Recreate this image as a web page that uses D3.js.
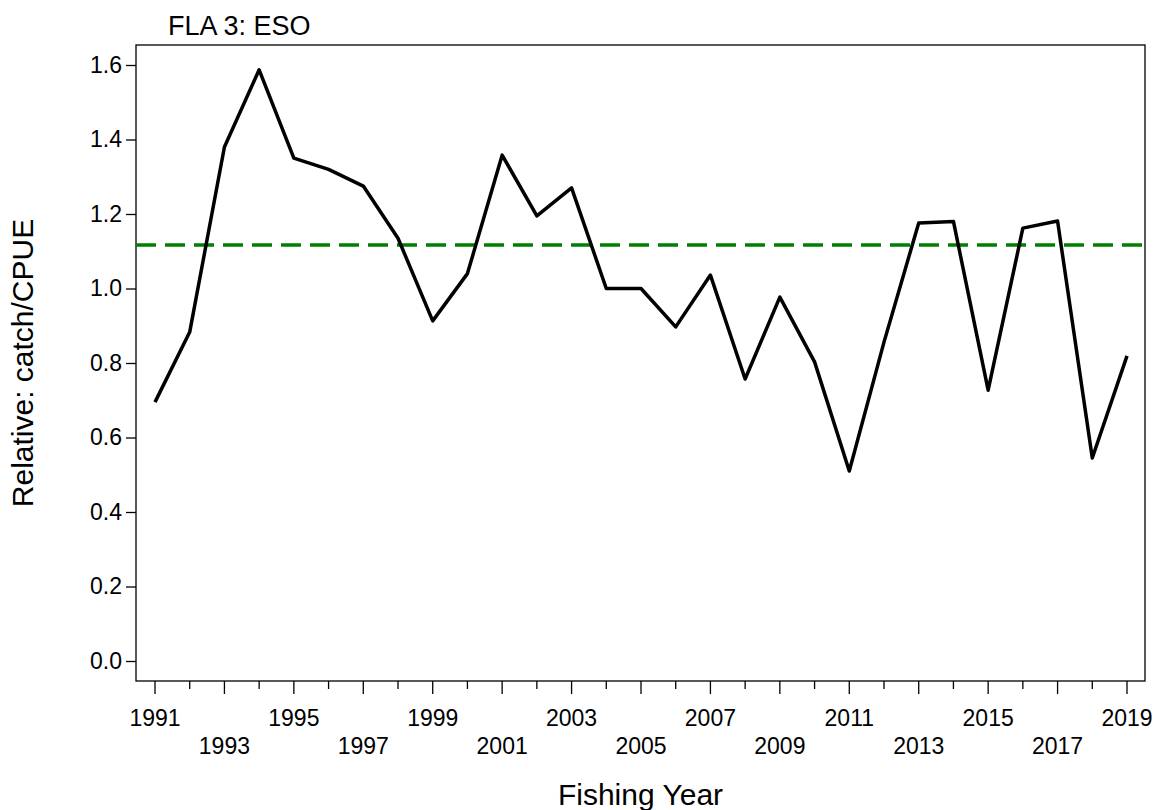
<!DOCTYPE html>
<html>
<head>
<meta charset="UTF-8">
<script src="https://d3js.org/d3.v7.min.js"></script>
<style>body{margin:0;background:#fff;font-family:Arial,"Liberation Sans",sans-serif;}</style>
</head>
<body>
<div id="chart"></div>
<script>
const years = d3.range(1991, 2020);
const values = [0.695, 0.883, 1.38, 1.587, 1.35, 1.32, 1.275, 1.135, 0.913, 1.04,
  1.358, 1.195, 1.27, 1.0, 1.0, 0.897, 1.036, 0.757, 0.977, 0.803,
  0.51, 0.856, 1.176, 1.18, 0.727, 1.162, 1.181, 0.545, 0.819];
const refLine = 1.117;
const yTicks = [0, 0.2, 0.4, 0.6, 0.8, 1.0, 1.2, 1.4, 1.6];

const W = 1162, H = 810;
const pLeft = 136, pRight = 1145, pTop = 45, pBottom = 681;

const svg = d3.select("#chart").append("svg").attr("width", W).attr("height", H)
  .style("font-family", "Arial, 'Liberation Sans', sans-serif");

const x = d3.scaleLinear().domain([1991, 2019]).range([155, 1127]);
const y = d3.scaleLinear().domain([0, 1.6]).range([661, 65]);

svg.append("rect").attr("x", pLeft).attr("y", pTop).attr("width", pRight - pLeft).attr("height", pBottom - pTop)
  .attr("fill", "none").attr("stroke", "#000").attr("stroke-width", 1.3);

// y axis
const ya = svg.append("g").attr("transform", "translate(" + pLeft + ",0)")
  .call(d3.axisLeft(y).tickValues(yTicks).tickFormat(d3.format(".1f")).tickSize(10).tickSizeOuter(0));
ya.select(".domain").remove();
ya.selectAll("line").attr("stroke-width", 1.3);
ya.selectAll("text").attr("font-size", 23).attr("fill", "#000").attr("dx", "-1px");

// x axis: major ticks odd years, minor even years
const xg = svg.append("g").attr("transform", "translate(0," + pBottom + ")");
xg.selectAll("line").data(years).enter().append("line")
  .attr("x1", d => x(d)).attr("x2", d => x(d))
  .attr("y1", 0).attr("y2", d => d % 2 ? 13 : 8)
  .attr("stroke", "#000").attr("stroke-width", 1.3);
xg.selectAll("text").data(years.filter(d => d % 2)).enter().append("text")
  .attr("x", d => x(d)).attr("y", (d, i) => i % 2 ? 73 : 45)
  .attr("text-anchor", "middle").attr("font-size", 23).text(d => d);

// reference line
svg.append("line").attr("x1", pLeft).attr("x2", pRight)
  .attr("y1", y(refLine)).attr("y2", y(refLine))
  .attr("stroke", "#008000").attr("stroke-width", 3.5).attr("stroke-dasharray", "20,9");

// series
svg.append("path").datum(values)
  .attr("d", d3.line().x((d, i) => x(years[i])).y(d => y(d)))
  .attr("fill", "none").attr("stroke", "#000").attr("stroke-width", 3.5).attr("stroke-linejoin", "round");

svg.append("text").attr("x", pLeft + 32).attr("y", 35).attr("font-size", 27).text("FLA 3: ESO");
svg.append("text").attr("x", (pLeft + pRight) / 2).attr("y", 805).attr("text-anchor", "middle")
  .attr("font-size", 30).text("Fishing Year");
svg.append("text").attr("transform", "translate(33," + ((pTop + pBottom) / 2) + ") rotate(-90)")
  .attr("text-anchor", "middle").attr("font-size", 30).text("Relative: catch/CPUE");
</script>
</body>
</html>
